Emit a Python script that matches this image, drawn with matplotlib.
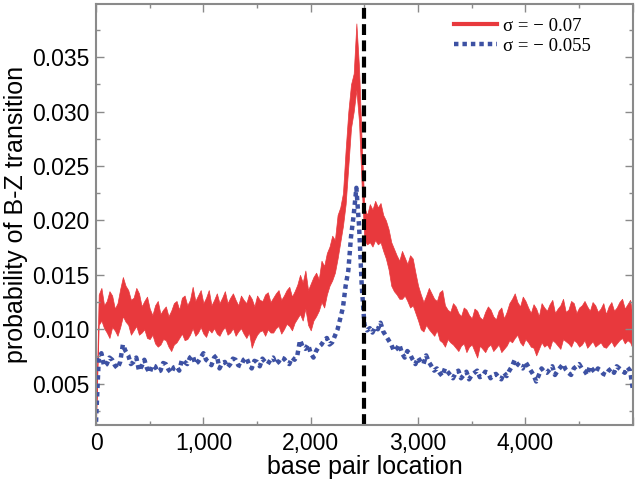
import numpy as np
import matplotlib
matplotlib.use("Agg")
import matplotlib.pyplot as plt
from matplotlib.ticker import MultipleLocator, FuncFormatter

# base pair positions, every 25 bp
bp = np.arange(0, 5001, 25)

# values in units of 1e-4
# sigma = -0.07 : upper / lower envelope of the noisy red trace
red_hi = [20, 132, 138, 122, 126, 135, 131, 119, 124, 137,
          148, 140, 136, 127, 129, 138, 133, 121, 126, 130,
          119, 113, 122, 126, 114, 118, 121, 112, 117, 124,
          126, 118, 129, 131, 122, 127, 139, 126, 131, 136,
          124, 129, 136, 122, 127, 133, 124, 129, 135, 124,
          129, 133, 127, 122, 131, 127, 124, 132, 128, 121,
          131, 127, 126, 132, 134, 125, 129, 133, 136, 127,
          131, 136, 139, 130, 135, 141, 150, 143, 154, 136,
          142, 148, 152, 146, 163, 158, 170, 176, 186, 182,
          205, 212,
          225, 265, 300, 325, 335, 381, 340, 270, 212, 205,
          215, 210, 218, 212, 216, 205, 200,
          192, 180, 174, 168, 163, 172, 166, 160, 168, 165,
          152, 140, 132, 125, 131, 138, 133, 128, 126, 134,
          136, 122, 118, 116, 124, 121, 115, 112, 120, 118,
          113, 110, 119, 117, 111, 109, 116, 121, 118, 112,
          109, 117, 120, 110, 116, 124, 128, 133, 125, 121,
          130, 126, 120, 115, 123, 119, 112, 124, 120, 117,
          123, 127, 115, 119, 122, 128, 116, 118, 126, 124,
          115, 120, 122, 126, 121, 117, 125, 122, 116, 119,
          124, 114, 121, 125, 117, 120, 125, 128, 119, 123,
          127, 110]
red_lo = [14, 104, 108, 101, 97, 92, 102, 99, 94, 102,
          112, 107, 104, 95, 99, 103, 95, 97, 100, 92,
          91, 95, 87, 84, 86, 91, 90, 84, 80, 86,
          88, 92, 96, 90, 91, 95, 101, 94, 97, 102,
          96, 93, 100, 97, 101, 96, 94, 99, 102, 95,
          97, 101, 94, 98, 101, 96, 92, 97, 83, 90,
          95, 98, 99, 94, 100, 97, 97, 101, 103, 96,
          100, 105, 103, 99, 106, 110, 114, 108, 119, 104,
          99, 108, 112, 117, 125, 120, 132, 140, 145, 152,
          165, 180,
          195, 215, 250, 285, 300, 320, 290, 230, 182, 178,
          180, 176, 182, 178, 180, 172, 165,
          155, 140, 135, 132, 128, 128, 131, 126, 120, 122,
          115, 108, 100, 98, 104, 100, 97, 94, 99, 90,
          88, 84, 91, 88, 86, 83, 80, 85, 87, 79,
          84, 86, 80, 74, 85, 82, 79, 84, 86, 80,
          83, 86, 79, 82, 85, 90, 88, 92, 95, 88,
          85, 91, 88, 84, 83, 76, 82, 88, 84, 86,
          82, 90, 88, 85, 82, 91, 89, 87, 84, 90,
          88, 84, 86, 90, 83, 86, 89, 84, 86, 88,
          84, 83, 86, 89, 84, 87, 90, 92, 87, 90,
          88, 82]

# sigma = -0.055 : blue dotted trace
blue = [15, 72, 78, 66, 68, 74, 72, 67, 64, 70,
        86, 80, 76, 68, 70, 74, 62, 66, 72, 64,
        60, 67, 66, 61, 62, 69, 68, 63, 60, 65,
        66, 62, 72, 70, 68, 74, 76, 68, 70, 74,
        78, 72, 70, 67, 74, 76, 64, 69, 70, 65,
        68, 73, 72, 67, 66, 72, 74, 68, 64, 71,
        70, 66, 73, 70, 68, 72, 74, 68, 70, 74,
        73, 70, 68, 74, 72, 76, 90, 84, 82, 86,
        78, 74, 80, 84, 86, 90, 92, 86, 88, 94,
        100, 110,
        120, 140, 154, 185, 205, 230, 195, 140, 104, 99,
        101, 97, 102, 100, 106, 98, 94,
        90, 86, 80, 82, 86, 78, 74, 80, 77, 72,
        68, 74, 70, 68, 76, 70, 66, 62, 64, 60,
        57, 64, 61, 58, 55, 60, 62, 55, 58, 61,
        54, 58, 60, 62, 56, 57, 61, 60, 55, 58,
        59, 56, 54, 60, 57, 62, 66, 72, 68, 66,
        64, 70, 66, 62, 58, 52, 58, 64, 61, 60,
        63, 66, 58, 62, 65, 68, 63, 60, 58, 64,
        66, 68, 64, 62, 58, 66, 63, 60, 64, 62,
        59, 58, 62, 64, 60, 66, 64, 62, 60, 65,
        62, 45]

CENTER = 2500
RED = "#E8393D"
BLUE = "#3D51A3"
FRAME = "#8a8a8a"

plt.rcParams["font.family"] = ["Liberation Sans", "DejaVu Sans"]

fig = plt.figure(figsize=(6.36, 4.83), dpi=100)
ax = fig.add_axes([0.151, 0.120, 0.844, 0.872])

ax.fill_between(bp, np.array(red_lo) * 1e-4, np.array(red_hi) * 1e-4, color=RED, lw=0.5, edgecolor=RED)
ax.plot([], [], color=RED, lw=3, label="σ = − 0.07")
ax.plot(bp, np.array(blue) * 1e-4, color=BLUE, lw=3.2, ls=(0, (1, 0.9)), label="σ = − 0.055")
ax.axvline(CENTER, color="black", lw=3, ls=(0, (2.6, 1.3)))

ax.set_xlim(0, 5000)
ax.set_ylim(0.0012, 0.0399)
ax.xaxis.set_major_locator(MultipleLocator(1000))
ax.xaxis.set_minor_locator(MultipleLocator(500))
ax.yaxis.set_major_locator(MultipleLocator(0.005))
ax.yaxis.set_minor_locator(MultipleLocator(0.0025))
ax.xaxis.set_major_formatter(FuncFormatter(lambda v, p: "0" if v == 0 else f"{int(v):,}" if v < 5000 else ""))
ax.yaxis.set_major_formatter(FuncFormatter(lambda v, p: f"{v:.3f}"))

ax.tick_params(which="both", direction="in", top=True, right=True, color=FRAME, labelsize=16.5, pad=5)
ax.tick_params(which="major", length=6, width=1)
ax.tick_params(which="minor", length=3, width=1)
for s in ax.spines.values():
    s.set_color(FRAME)
    s.set_linewidth(1.5)

ax.set_xlabel("base pair location", fontsize=18, labelpad=0)
ax.set_ylabel("probability of B-Z transition", fontsize=18, labelpad=3)

ax.legend(loc="upper right", bbox_to_anchor=(0.935, 0.985), frameon=False, handlelength=2.3,
          handletextpad=0.3, labelspacing=0.15, borderaxespad=0,
          prop={"family": "Liberation Serif", "size": 13.5})

fig.savefig("out.png", dpi=100, facecolor="white")
